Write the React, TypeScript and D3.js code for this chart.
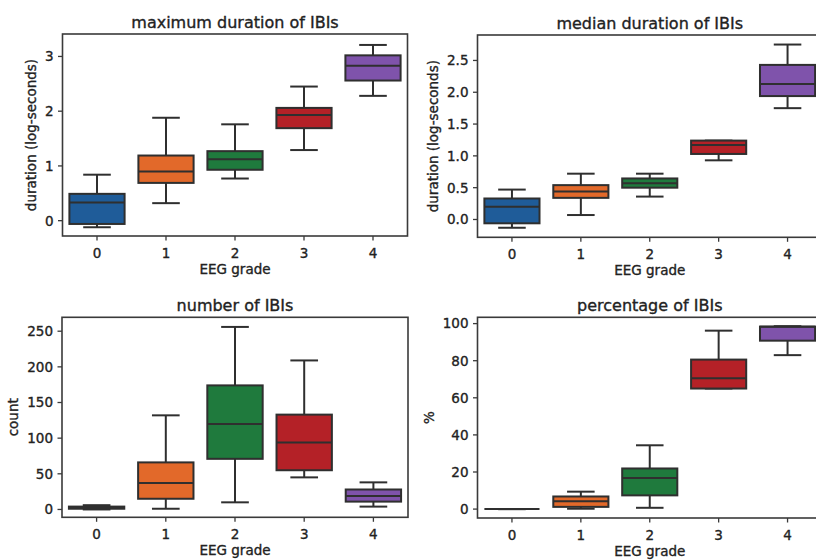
import React from "react";
import * as d3 from "d3";

const categories = ["0", "1", "2", "3", "4"];
const colors = ["#1f5c99", "#e2692a", "#1f7a3d", "#b42127", "#7f53ab"];

// [whisker low, q1, median, q3, whisker high]
const maxDuration = [
  [-0.12, -0.06, 0.33, 0.49, 0.84],
  [0.32, 0.69, 0.9, 1.19, 1.88],
  [0.77, 0.93, 1.12, 1.27, 1.76],
  [1.29, 1.69, 1.93, 2.06, 2.45],
  [2.28, 2.56, 2.83, 3.02, 3.21],
];
const medianDuration = [
  [-0.13, -0.06, 0.2, 0.33, 0.47],
  [0.07, 0.34, 0.44, 0.54, 0.72],
  [0.36, 0.5, 0.57, 0.645, 0.72],
  [0.93, 1.03, 1.17, 1.24, 1.24],
  [1.75, 1.94, 2.13, 2.43, 2.75],
];
const numberIBIs = [
  [0, 1, 2, 4, 6],
  [1, 15, 37, 66, 132],
  [10, 71, 120, 174, 256],
  [45, 55, 94, 133, 209],
  [4, 11, 19, 28, 38],
];
const percentIBIs = [
  [0, 0, 0, 0, 0],
  [0.2, 1.2, 4.2, 6.8, 9.4],
  [0.7, 7.4, 16.8, 21.9, 34.4],
  [65, 65, 70.5, 80.6, 96.2],
  [83, 90.8, 98.3, 98.4, 98.6],
];

const ticksTL = [0, 1, 2, 3];
const ticksTR = [0, 0.5, 1, 1.5, 2, 2.5];
const ticksBL = [0, 50, 100, 150, 200, 250];
const ticksBR = [0, 20, 40, 60, 80, 100];

const FONT = "DejaVu Sans";
const FS = 13.5;
const TEXT = "#222222";
const EDGE = "#2f2f2f";
const LW = 2;

type PanelCfg = {
  title: string;
  ylabel: string;
  data: number[][];
  ticks: number[];
  fmt: (v: number) => string;
  domain: [number, number];
  x0: number;
  x1: number;
  y0: number;
  y1: number;
};

const panels: PanelCfg[] = [
  {
    title: "maximum duration of IBIs",
    ylabel: "duration (log-seconds)",
    data: maxDuration,
    ticks: ticksTL,
    fmt: d3.format("d"),
    domain: [-0.28, 3.41],
    x0: 62.5, x1: 407.5, y0: 34, y1: 236,
  },
  {
    title: "median duration of IBIs",
    ylabel: "duration (log-seconds)",
    data: medianDuration,
    ticks: ticksTR,
    fmt: d3.format(".1f"),
    domain: [-0.28, 2.9],
    x0: 477.5, x1: 822, y0: 35, y1: 237.3,
  },
  {
    title: "number of IBIs",
    ylabel: "count",
    data: numberIBIs,
    ticks: ticksBL,
    fmt: d3.format("d"),
    domain: [-11, 269.5],
    x0: 62, x1: 408, y0: 317.3, y1: 517.3,
  },
  {
    title: "percentage of IBIs",
    ylabel: "%",
    data: percentIBIs,
    ticks: ticksBR,
    fmt: d3.format("d"),
    domain: [-4.8, 103.4],
    x0: 477.5, x1: 822, y0: 317.3, y1: 518,
  },
];

function textWidth(s: string) {
  let w = 0;
  for (const c of s) w += c === "." ? 0.318 : 0.636;
  return w * FS;
}

const textProps = { fill: TEXT, stroke: TEXT, strokeWidth: 0.35 };

function Panel({ p }: { p: PanelCfg }) {
  const x = d3.scaleLinear().domain([-0.5, categories.length - 0.5]).range([p.x0, p.x1]);
  const y = d3.scaleLinear().domain(p.domain).range([p.y1, p.y0]);
  const step = x(1) - x(0);
  const bw = step * 0.8;
  const cw = bw / 2;
  const maxTickW = d3.max(p.ticks, (t) => textWidth(p.fmt(t))) || 0;
  const tickRight = p.x0 - 9;
  const ylabX = tickRight - maxTickW - 9;
  const ymid = (p.y0 + p.y1) / 2;
  const cx = (p.x0 + p.x1) / 2;
  return (
    <g>
      {p.data.map((s, i) => {
        const c = x(i);
        const [lo, q1, md, q3, hi] = s;
        return (
          <g key={i}>
            <line x1={c} x2={c} y1={y(lo)} y2={y(q1)} stroke={EDGE} strokeWidth={LW} />
            <line x1={c} x2={c} y1={y(q3)} y2={y(hi)} stroke={EDGE} strokeWidth={LW} />
            <line x1={c - cw / 2} x2={c + cw / 2} y1={y(lo)} y2={y(lo)} stroke={EDGE} strokeWidth={LW} />
            <line x1={c - cw / 2} x2={c + cw / 2} y1={y(hi)} y2={y(hi)} stroke={EDGE} strokeWidth={LW} />
            <rect
              x={c - bw / 2}
              y={y(q3)}
              width={bw}
              height={Math.max(0, y(q1) - y(q3))}
              fill={colors[i]}
              stroke={EDGE}
              strokeWidth={LW}
            />
            <line x1={c - bw / 2} x2={c + bw / 2} y1={y(md)} y2={y(md)} stroke={EDGE} strokeWidth={LW} />
          </g>
        );
      })}
      <rect x={p.x0} y={p.y0} width={p.x1 - p.x0} height={p.y1 - p.y0} fill="none" stroke="#3a3a3a" strokeWidth={1.6} />
      {p.ticks.map((t) => (
        <g key={t}>
          <line x1={p.x0 - 4.5} x2={p.x0} y1={y(t)} y2={y(t)} stroke="#3a3a3a" strokeWidth={1.3} />
          <text x={tickRight} y={y(t)} dy="0.36em" textAnchor="end" fontSize={FS} {...textProps}>
            {p.fmt(t)}
          </text>
        </g>
      ))}
      {categories.map((c, i) => (
        <g key={c}>
          <line x1={x(i)} x2={x(i)} y1={p.y1} y2={p.y1 + 4.5} stroke="#3a3a3a" strokeWidth={1.3} />
          <text x={x(i)} y={p.y1 + 22} textAnchor="middle" fontSize={FS} {...textProps}>
            {c}
          </text>
        </g>
      ))}
      <text x={cx} y={p.y1 + 38} textAnchor="middle" fontSize={FS} {...textProps}>
        EEG grade
      </text>
      <text
        transform={`translate(${ylabX},${ymid}) rotate(-90)`}
        textAnchor="middle"
        fontSize={FS}
        {...textProps}
      >
        {p.ylabel}
      </text>
      <text x={cx} y={p.y0 - 6.5} textAnchor="middle" fontSize={16} {...textProps}>
        {p.title}
      </text>
    </g>
  );
}

export default function App() {
  return (
    <svg
      width={816}
      height={560}
      style={{ position: "absolute", left: 0, top: 0, background: "#fff" }}
      fontFamily={FONT}
    >
      <rect x={0} y={0} width={816} height={560} fill="#fff" />
      {panels.map((p, i) => (
        <Panel key={i} p={p} />
      ))}
    </svg>
  );
}
